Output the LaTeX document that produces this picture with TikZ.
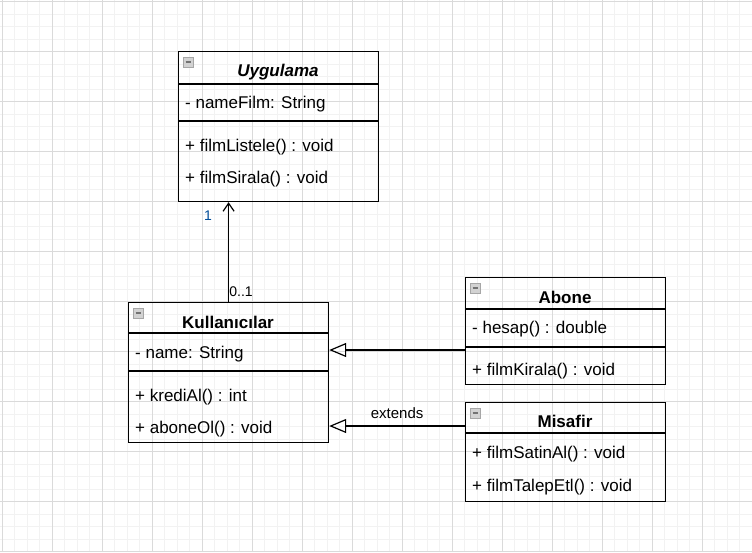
\documentclass[tikz,border=0pt]{standalone}
\usepackage{fontspec}
\setmainfont{Liberation Sans}
\usetikzlibrary{arrows.meta}

\definecolor{gridmajor}{RGB}{218,218,218}
\definecolor{gridminor}{RGB}{242,242,242}
\definecolor{multblue}{RGB}{0,76,153}

\tikzset{
  classbox/.style={draw, line width=1.2pt, rectangle, anchor=north west, inner sep=0pt},
  classtitle/.style={font=\fontsize{17}{20}\selectfont\bfseries, inner sep=0pt},
  member/.style={font=\fontsize{17}{20}\selectfont, anchor=west, inner sep=0pt},
  multlabel/.style={font=\fontsize{14}{16}\selectfont, inner sep=1pt},
  inherit/.style={line width=1.2pt, -{Triangle[open, length=17pt, width=14pt]}},
  assoc/.style={line width=1.2pt, -{Straight Barb[length=8pt, width=11pt]}},
  iconbox/.style={draw=gray!70, fill=gray!35, line width=0.8pt}
}

\begin{document}
\begin{tikzpicture}[x=1pt,y=-1pt]
\useasboundingbox (0,0) rectangle (752,552);

% grid
\foreach \g in {0,...,60} {
  \draw[gridminor, line width=0.9pt] (2.3+12.5*\g,0) -- (2.3+12.5*\g,552);
}
\foreach \g in {0,...,44} {
  \draw[gridminor, line width=0.9pt] (0,1.7+12.5*\g) -- (752,1.7+12.5*\g);
}
\foreach \g in {0,...,15} {
  \draw[gridmajor, line width=0.9pt] (2.3+50*\g,0) -- (2.3+50*\g,552);
}
\foreach \g in {0,...,11} {
  \draw[gridmajor, line width=0.9pt] (0,1.7+50*\g) -- (752,1.7+50*\g);
}

% classes
\node[classbox, minimum width=200pt, minimum height=150pt] (uyg) at (178,51) {};
\node[classbox, minimum width=200pt, minimum height=140pt] (kul) at (128,302) {};
\node[classbox, minimum width=200pt, minimum height=107pt] (abo) at (465,277) {};
\node[classbox, minimum width=200pt, minimum height=99pt] (mis) at (465,402) {};

\node[classtitle, font=\fontsize{17}{20}\selectfont\bfseries\itshape] (uygt) at (278,72) {Uygulama};
\node[classtitle] (kult) at (228,322) {Kullanıcılar};
\node[classtitle] (abot) at (565,297) {Abone};
\node[classtitle] (mist) at (565,421) {Misafir};

% separators
\draw[line width=1.2pt] (178,84) -- (378,84);
\draw[line width=1.2pt] (178,121) -- (378,121);
\draw[line width=1.2pt] (128,333) -- (328,333);
\draw[line width=1.2pt] (128,371) -- (328,371);
\draw[line width=1.2pt] (465,309) -- (665,309);
\draw[line width=1.2pt] (465,347) -- (665,347);
\draw[line width=1.2pt] (465,433) -- (665,433);

% collapse icons
\foreach \b in {uyg,kul,abo,mis} {
  \draw[iconbox] ([xshift=5pt,yshift=-6pt]\b.north west) rectangle ++(10,10);
  \draw[gray!90!black, line width=1.2pt] ([xshift=7.5pt,yshift=-11pt]\b.north west) -- ++(5,0);
}

% members
\node[member] (uname) at (185,104) {- nameFilm: String};
\node[member] (ulist) at (185,147) {+ filmListele() : void};
\node[member] (usira) at (185,179) {+ filmSirala() : void};

\node[member] (kname) at (135,354) {- name: String};
\node[member] (kkred) at (135,397) {+ krediAl() : int};
\node[member] (kabon) at (135,429) {+ aboneOl() : void};

\node[member] (ahesap) at (472,329) {- hesap() : double};
\node[member] (akira) at (472,371) {+ filmKirala() : void};

\node[member] (msatin) at (472,454) {+ filmSatinAl() : void};
\node[member] (mtalep) at (472,487) {+ filmTalepEtl() : void};

% relations
\draw[assoc] (kul.north) -- (kul.north |- uyg.south);
\node[multlabel, text=multblue] (m1) at (208,216) {1};
\node[multlabel] (m01) at (241,292) {0..1};

\draw[inherit] (abo.west |- 0,350) -- (kul.east |- 0,350);
\draw[inherit] (mis.west |- 0,426) -- (kul.east |- 0,426)
  node[midway, above, font=\fontsize{15}{18}\selectfont, yshift=3pt] {extends};
\end{tikzpicture}
\end{document}
